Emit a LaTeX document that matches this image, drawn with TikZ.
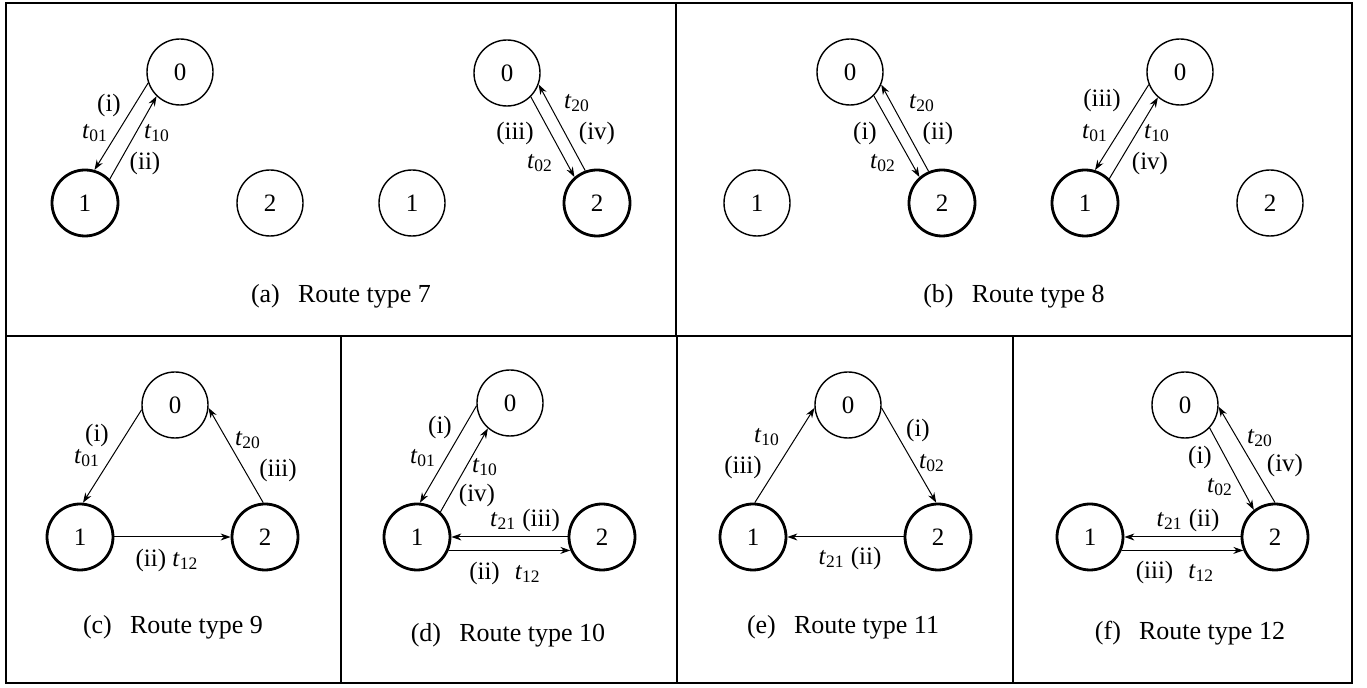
\documentclass[tikz,border=0pt]{standalone}
\usepackage{fontspec}
\setmainfont{Liberation Serif}
\usetikzlibrary{arrows.meta}

\newcommand{\tij}[1]{\textit{t}\textsubscript{#1}}

\begin{document}
\begin{tikzpicture}[x=0.5pt, y=-0.5pt,
    vtx/.style={circle, draw, line width=0.7pt, minimum size=33pt, inner sep=0pt, font=\fontsize{12.5}{15}\selectfont},
    vtxb/.style={vtx, line width=1.4pt},
    trip/.style={-{Stealth[length=5pt, width=3.5pt]}, line width=0.5pt},
    lbl/.style={inner sep=0pt, font=\fontsize{12.5}{15}\selectfont},
    rtype/.style={inner sep=0pt, font=\fontsize{13}{15}\selectfont}]
    \useasboundingbox (0,0) rectangle (1367,688);

    % Frame
    \draw[line width=1.3pt] (6,3) rectangle (1352,683);
    \draw[line width=1pt] (6,336) -- (1352,336);
    \draw[line width=1pt] (676,3) -- (676,336);
    \draw[line width=1pt] (341,336) -- (341,683);
    \draw[line width=1pt] (677,336) -- (677,683);
    \draw[line width=1pt] (1013,336) -- (1013,683);

    % Panel (a) - Route type 7, left
    \node[vtx] (aL0) at (180,72) {0};
    \node[vtxb] (aL1) at (85,203) {1};
    \node[vtx] (aL2) at (270,203) {2};
    \draw[trip] (aL0.199) -- (aL1.74);
    \draw[trip] (aL1.44) -- (aL0.226);
    \node[lbl] (aLi) at (109,105) {(i)};
    \node[lbl] (aLt01) at (95,133) {\tij{01}};
    \node[lbl] (aLt10) at (157,133) {\tij{10}};
    \node[lbl] (aLii) at (145,163) {(ii)};

    % Panel (a) - Route type 7, right
    \node[vtx] (aR0) at (507,73) {0};
    \node[vtx] (aR1) at (412,203) {1};
    \node[vtxb] (aR2) at (597,203) {2};
    \draw[trip] (aR0.315) -- (aR2.131);
    \draw[trip] (aR2.110) -- (aR0.340);
    \node[lbl] (aRt20) at (577,103) {\tij{20}};
    \node[lbl] (aRiii) at (515,133) {(iii)};
    \node[lbl] (aRiv) at (597,133) {(iv)};
    \node[lbl] (aRt02) at (540,163) {\tij{02}};
    \node[rtype] (capa) at (341,296) {(a)\hspace{0.7em}Route type 7};

    % Panel (b) - Route type 8, left
    \node[vtx] (bL0) at (850,72) {0};
    \node[vtx] (bL1) at (757,203) {1};
    \node[vtxb] (bL2) at (942,203) {2};
    \draw[trip] (bL0.315) -- (bL2.131);
    \draw[trip] (bL2.113) -- (bL0.338);
    \node[lbl] (bLt20) at (922,103) {\tij{20}};
    \node[lbl] (bLi) at (865,133) {(i)};
    \node[lbl] (bLii) at (938,133) {(ii)};
    \node[lbl] (bLt02) at (883,163) {\tij{02}};

    % Panel (b) - Route type 8, right
    \node[vtx] (bR0) at (1180,72) {0};
    \node[vtxb] (bR1) at (1085,203) {1};
    \node[vtx] (bR2) at (1270,203) {2};
    \draw[trip] (bR0.202) -- (bR1.73);
    \draw[trip] (bR1.45) -- (bR0.229);
    \node[lbl] (bRiii) at (1102,100) {(iii)};
    \node[lbl] (bRt01) at (1095,133) {\tij{01}};
    \node[lbl] (bRt10) at (1157,133) {\tij{10}};
    \node[lbl] (bRiv) at (1150,163) {(iv)};
    \node[rtype] (capb) at (1014,296) {(b)\hspace{0.7em}Route type 8};

    % Panel (c) - Route type 9
    \node[vtx] (c0) at (175,405) {0};
    \node[vtxb] (c1) at (80,537) {1};
    \node[vtxb] (c2) at (265,537) {2};
    \draw[trip] (c0.188) -- (c1.85);
    \draw[trip] (c1.0) -- (c2.180);
    \draw[trip] (c2.93) -- (c0.355);
    \node[lbl] (ci) at (97,435) {(i)};
    \node[lbl] (ct01) at (87,458) {\tij{01}};
    \node[lbl] (ct20) at (248,440) {\tij{20}};
    \node[lbl] (ciii) at (278,470) {(iii)};
    \node[lbl] (cii) at (167,560) {(ii) \tij{12}};
    \node[rtype] (capc) at (173,627) {(c)\hspace{0.7em}Route type 9};

    % Panel (d) - Route type 10
    \node[vtx] (d0) at (510,403) {0};
    \node[vtxb] (d1) at (417,537) {1};
    \node[vtxb] (d2) at (602,537) {2};
    \draw[trip] (d0.185) -- (d1.85);
    \draw[trip] (d1.47) -- (d0.229);
    \draw[trip] (d2.180) -- (d1.0);
    \draw[trip] (d1.337) -- (d2.203);
    \node[lbl] (di) at (440,427) {(i)};
    \node[lbl] (dt01) at (423,458) {\tij{01}};
    \node[lbl] (dt10) at (485,467) {\tij{10}};
    \node[lbl] (div) at (477,495) {(iv)};
    \node[lbl] (diii) at (525,520) {\tij{21} (iii)};
    \node[lbl] (dii) at (505,573) {(ii)\hspace{0.6em}\tij{12}};
    \node[rtype] (capd) at (508,635) {(d)\hspace{0.7em}Route type 10};

    % Panel (e) - Route type 11
    \node[vtx] (e0) at (848,405) {0};
    \node[vtxb] (e1) at (753,537) {1};
    \node[vtxb] (e2) at (938,537) {2};
    \draw[trip] (e1.87) -- (e0.185);
    \draw[trip] (e0.355) -- (e2.93);
    \draw[trip] (e2.180) -- (e1.0);
    \node[lbl] (et10) at (767,437) {\tij{10}};
    \node[lbl] (eiii) at (743,467) {(iii)};
    \node[lbl] (ei) at (918,430) {(i)};
    \node[lbl] (et02) at (932,463) {\tij{02}};
    \node[lbl] (eii) at (850,558) {\tij{21} (ii)};
    \node[rtype] (cape) at (843,627) {(e)\hspace{0.7em}Route type 11};

    % Panel (f) - Route type 12
    \node[vtx] (f0) at (1185,405) {0};
    \node[vtxb] (f1) at (1090,537) {1};
    \node[vtxb] (f2) at (1275,537) {2};
    \draw[trip] (f0.317) -- (f2.128);
    \draw[trip] (f2.90) -- (f0.357);
    \draw[trip] (f2.180) -- (f1.0);
    \draw[trip] (f1.337) -- (f2.203);
    \node[lbl] (ft20) at (1260,438) {\tij{20}};
    \node[lbl] (fiv) at (1285,465) {(iv)};
    \node[lbl] (fi) at (1200,457) {(i)};
    \node[lbl] (ft02) at (1220,487) {\tij{02}};
    \node[lbl] (fii) at (1188,520) {\tij{21} (ii)};
    \node[lbl] (fiii) at (1175,572) {(iii)\hspace{0.6em}\tij{12}};
    \node[rtype] (capf) at (1190,633) {(f)\hspace{0.7em}Route type 12};
\end{tikzpicture}
\end{document}
